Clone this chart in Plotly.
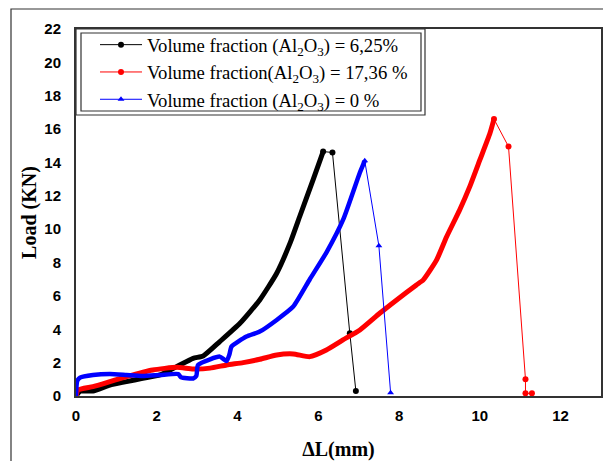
import plotly.graph_objects as go

# ---- data ----
x_625 = [0, 0.1, 0.42, 0.84, 1.25, 1.65, 2.08, 2.49, 2.9, 3.15, 3.56, 4.06, 4.55, 4.97, 5.3, 5.54, 5.87, 6.12, 6.35, 6.78, 6.93]
y_625 = [0, 0.28, 0.3, 0.66, 0.86, 1.06, 1.26, 1.76, 2.26, 2.4, 3.26, 4.36, 5.76, 7.36, 9.16, 10.76, 12.96, 14.65, 14.6, 3.76, 0.3]

x_1736 = [0, 0.05, 0.42, 0.84, 1.25, 1.9, 2.49, 2.9, 3.32, 3.73, 4.14, 4.55, 4.97, 5.38, 5.79, 6.2, 6.61, 7.03, 7.52,
          7.94, 8.43, 8.6, 8.93, 9.18, 9.5, 9.75, 10.0, 10.25, 10.35, 10.71, 11.13, 11.13, 11.29]
y_1736 = [0, 0.36, 0.56, 0.86, 1.16, 1.56, 1.72, 1.62, 1.67, 1.86, 2.0, 2.2, 2.46, 2.52, 2.36, 2.76, 3.36, 3.96, 4.96,
          5.76, 6.66, 6.96, 8.16, 9.56, 11.15, 12.55, 14.15, 15.75, 16.6, 14.95, 1.0, 0.16, 0.16]

x_0 = [0, 0.03, 0.1, 0.42, 0.84, 1.25, 1.65, 2.08, 2.53, 2.6, 2.9, 2.98, 3.02, 3.32, 3.56, 3.73, 3.8, 3.85, 4.22,
       4.55, 4.97, 5.38, 5.79, 6.2, 6.62, 7.03, 7.15, 7.5, 7.79]
y_0 = [0, 0.9, 1.1, 1.26, 1.32, 1.26, 1.2, 1.26, 1.32, 1.12, 1.05, 1.2, 1.86, 2.2, 2.36, 2.1, 2.5, 2.96, 3.56,
       3.86, 4.56, 5.36, 7.0, 8.6, 10.6, 13.4, 14.1, 9.0, 0.2]

series = [
    ("Volume fraction (Al<sub>2</sub>O<sub>3</sub>) = 6,25%", x_625, y_625, "#000000", "circle", 5),
    ("Volume fraction(Al<sub>2</sub>O<sub>3</sub>) = 17,36 %", x_1736, y_1736, "#ff0000", "circle", 5),
    ("Volume fraction (Al<sub>2</sub>O<sub>3</sub>) = 0 %", x_0, y_0, "#0000ff", "triangle-up", 4.5),
]

x_ticks = [0, 2, 4, 6, 8, 10, 12]
y_ticks = [0, 2, 4, 6, 8, 10, 12, 14, 16, 18, 20, 22]

fig = go.Figure()
for i, (name, xs, ys, col, sym, lw) in enumerate(series):
    pk = ys.index(max(ys))
    # dense measured part (drawn thick, as the many overlapping markers in the reference)
    fig.add_trace(go.Scatter(x=xs[:pk + 1], y=ys[:pk + 1], mode="lines",
                             line=dict(color=col, width=lw, shape="spline", smoothing=0.5),
                             showlegend=False, legendgroup="g%d" % i, hoverinfo="skip"))
    # sparse part after the peak
    fig.add_trace(go.Scatter(x=xs[pk:], y=ys[pk:], mode="lines+markers", name=name,
                             line=dict(color=col, width=1),
                             marker=dict(color=col, size=6, symbol=sym),
                             legendgroup="g%d" % i))
    # starting point marker
    fig.add_trace(go.Scatter(x=xs[:1], y=ys[:1], mode="markers", showlegend=False,
                             marker=dict(color=col, size=6, symbol=sym), legendgroup="g%d" % i))

# page has an 8px body margin: screen pixel = figure pixel + 8
OFF = 8
W, H = 611 - OFF, 461 - OFF
PL, PT, PR, PB = 76, 29, 601, 396          # plot area in screen pixels
L, T = PL - OFF, PT - OFF
R, B = W - (PR - OFF), H - (PB - OFF)
pw, ph = PR - PL, PB - PT

def px(xs):
    return (xs - PL) / pw

def py(ys):
    return 1 - (ys - PT) / ph

shapes = [
    # outer frame of the whole figure
    dict(type="path", xref="paper", yref="paper",
         path="M %f,%f L %f,%f L %f,%f" % (px(11), py(470), px(11), py(9), px(620), py(9)),
         line=dict(color="#333333", width=1.2)),
    # legend double border
    dict(type="rect", xref="paper", yref="paper", x0=px(76), x1=px(425), y0=py(115), y1=py(29),
         line=dict(color="#333333", width=1.2), fillcolor="white", layer="below"),
    dict(type="rect", xref="paper", yref="paper", x0=px(81), x1=px(421), y0=py(111), y1=py(33),
         line=dict(color="#333333", width=1.2)),
]

fig.update_layout(
    width=W, height=H,
    margin=dict(l=L, r=R, t=T, b=B),
    paper_bgcolor="white", plot_bgcolor="white",
    shapes=shapes,
    showlegend=True,
    legend=dict(x=px(95), y=py(26), xanchor="left", yanchor="top",
                bgcolor="rgba(0,0,0,0)", borderwidth=0,
                font=dict(family="Liberation Serif", size=18.7, color="black"),
                itemwidth=42, tracegroupgap=0),
    xaxis=dict(range=[0, 13], tickvals=x_ticks, ticktext=[str(v) for v in x_ticks],
               showgrid=False, zeroline=False, showline=True, mirror=True, automargin=False,
               linecolor="#333333", linewidth=2, ticks="", ticklabelstandoff=5,
               tickfont=dict(family="Liberation Sans", size=15, color="black", weight="bold"),
               title=dict(text="<b>ΔL(mm)</b>", standoff=24,
                          font=dict(family="Liberation Serif", size=20, color="black"))),
    yaxis=dict(range=[0, 22], tickvals=y_ticks, ticktext=[str(v) for v in y_ticks],
               showgrid=False, zeroline=False, showline=True, mirror=True, automargin=False,
               linecolor="#333333", linewidth=2, ticks="", ticklabelstandoff=10,
               tickfont=dict(family="Liberation Sans", size=15, color="black", weight="bold"),
               title=dict(text="<b>Load (KN)</b>", standoff=2,
                          font=dict(family="Liberation Serif", size=20, color="black"))),
)

fig.write_html("out.html")
